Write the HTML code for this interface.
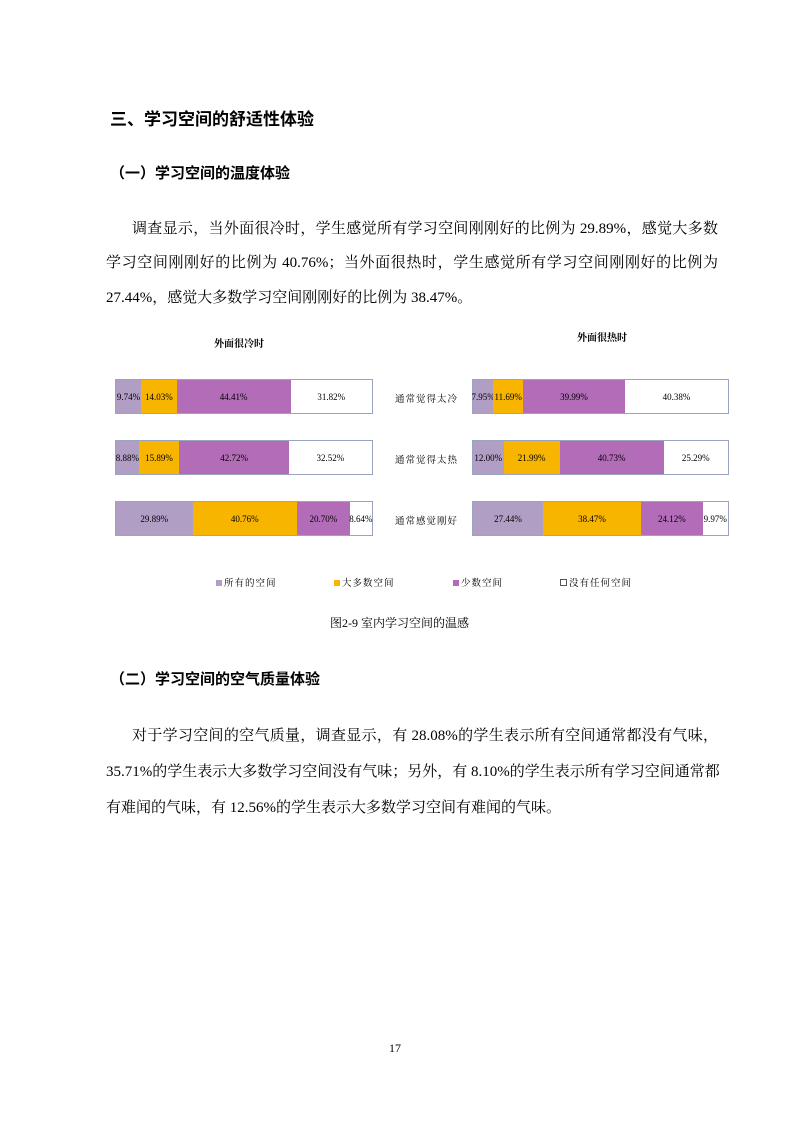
<!DOCTYPE html>
<html><head><meta charset="utf-8"><style>
body{margin:0;background:#fff;}
.page{position:relative;width:793px;height:1122px;font-family:"Liberation Serif","Noto Serif CJK SC","Noto Sans CJK SC",serif;color:#000;}
.a{position:absolute;white-space:nowrap;}
.h1{font-size:17px;font-weight:bold;font-family:"Liberation Sans","Noto Sans CJK SC",sans-serif;}
.h2{font-size:15px;font-weight:bold;font-family:"Liberation Sans","Noto Sans CJK SC",sans-serif;}
.ln{position:absolute;left:106px;width:612px;font-size:15px;text-align:justify;text-align-last:justify;white-space:nowrap;line-height:20px;}
.bar{position:absolute;height:35px;display:flex;border:1px solid #9aa3c0;box-sizing:border-box;}
.bar div{height:100%;display:flex;align-items:center;justify-content:center;font-size:9px;overflow:visible;white-space:nowrap;}
.p{background:#b09ec4}.o{background:#f7b500}.m{background:#b36cb8}.w{background:#fff}
.lab{position:absolute;font-size:9.5px;letter-spacing:1px;}
.sw{display:inline-block;width:6px;height:6px;margin-right:2px;}
</style></head><body><div class="page">
<div class="a h1" style="left:110px;top:105px;">三、学习空间的舒适性体验</div>
<div class="a h2" style="left:110px;top:162px;">（一）学习空间的温度体验</div>
<div class="ln" style="top:219px;padding-left:26px;width:586px;">调查显示，当外面很冷时，学生感觉所有学习空间刚刚好的比例为 29.89%，感觉大多数</div>
<div class="ln" style="top:253px;">学习空间刚刚好的比例为 40.76%；当外面很热时，学生感觉所有学习空间刚刚好的比例为</div>
<div class="a" style="left:106px;top:288px;font-size:15px;line-height:20px;">27.44%，感觉大多数学习空间刚刚好的比例为 38.47%。</div>

<div class="a" style="left:214px;top:335px;font-size:10px;font-weight:bold;">外面很冷时</div>
<div class="a" style="left:577px;top:329px;font-size:10px;font-weight:bold;">外面很热时</div>

<div class="bar" style="left:115px;top:379px;width:258px;"><div class="p" style="width:9.74%">9.74%</div><div class="o" style="width:14.03%">14.03%</div><div class="m" style="width:44.41%">44.41%</div><div class="w" style="width:31.82%">31.82%</div></div>
<div class="bar" style="left:115px;top:440px;width:258px;"><div class="p" style="width:8.88%">8.88%</div><div class="o" style="width:15.89%">15.89%</div><div class="m" style="width:42.72%">42.72%</div><div class="w" style="width:32.52%">32.52%</div></div>
<div class="bar" style="left:115px;top:501px;width:258px;"><div class="p" style="width:29.89%">29.89%</div><div class="o" style="width:40.76%">40.76%</div><div class="m" style="width:20.70%">20.70%</div><div class="w" style="width:8.64%">8.64%</div></div>

<div class="lab" style="left:395px;top:391px;">通常觉得太冷</div>
<div class="lab" style="left:395px;top:452px;">通常觉得太热</div>
<div class="lab" style="left:395px;top:513px;">通常感觉刚好</div>

<div class="bar" style="left:472px;top:379px;width:257px;"><div class="p" style="width:7.95%">7.95%</div><div class="o" style="width:11.69%">11.69%</div><div class="m" style="width:39.99%">39.99%</div><div class="w" style="width:40.38%">40.38%</div></div>
<div class="bar" style="left:472px;top:440px;width:257px;"><div class="p" style="width:12%">12.00%</div><div class="o" style="width:21.99%">21.99%</div><div class="m" style="width:40.73%">40.73%</div><div class="w" style="width:25.29%">25.29%</div></div>
<div class="bar" style="left:472px;top:501px;width:257px;"><div class="p" style="width:27.44%">27.44%</div><div class="o" style="width:38.47%">38.47%</div><div class="m" style="width:24.12%">24.12%</div><div class="w" style="width:9.97%">9.97%</div></div>

<div class="lab" style="left:216px;top:575px;"><span class="sw" style="background:#b09ec4;"></span>所有的空间</div>
<div class="lab" style="left:334px;top:575px;"><span class="sw" style="background:#f7b500;"></span>大多数空间</div>
<div class="lab" style="left:453px;top:575px;"><span class="sw" style="background:#b36cb8;"></span>少数空间</div>
<div class="lab" style="left:560px;top:575px;"><span class="sw" style="width:5px;height:5px;border:1px solid #555;"></span>没有任何空间</div>

<div class="a" style="left:330px;top:614px;font-size:12px;">图2-9 室内学习空间的温感</div>

<div class="a h2" style="left:110px;top:668px;">（二）学习空间的空气质量体验</div>
<div class="ln" style="top:726px;padding-left:26px;width:586px;">对于学习空间的空气质量，调查显示，有 28.08%的学生表示所有空间通常都没有气味，</div>
<div class="ln" style="top:762px;">35.71%的学生表示大多数学习空间没有气味；另外，有 8.10%的学生表示所有学习空间通常都</div>
<div class="a" style="left:106px;top:798px;font-size:15px;line-height:20px;">有难闻的气味，有 12.56%的学生表示大多数学习空间有难闻的气味。</div>

<div class="a" style="left:389px;top:1041px;font-size:12px;">17</div>
</div></body></html>
